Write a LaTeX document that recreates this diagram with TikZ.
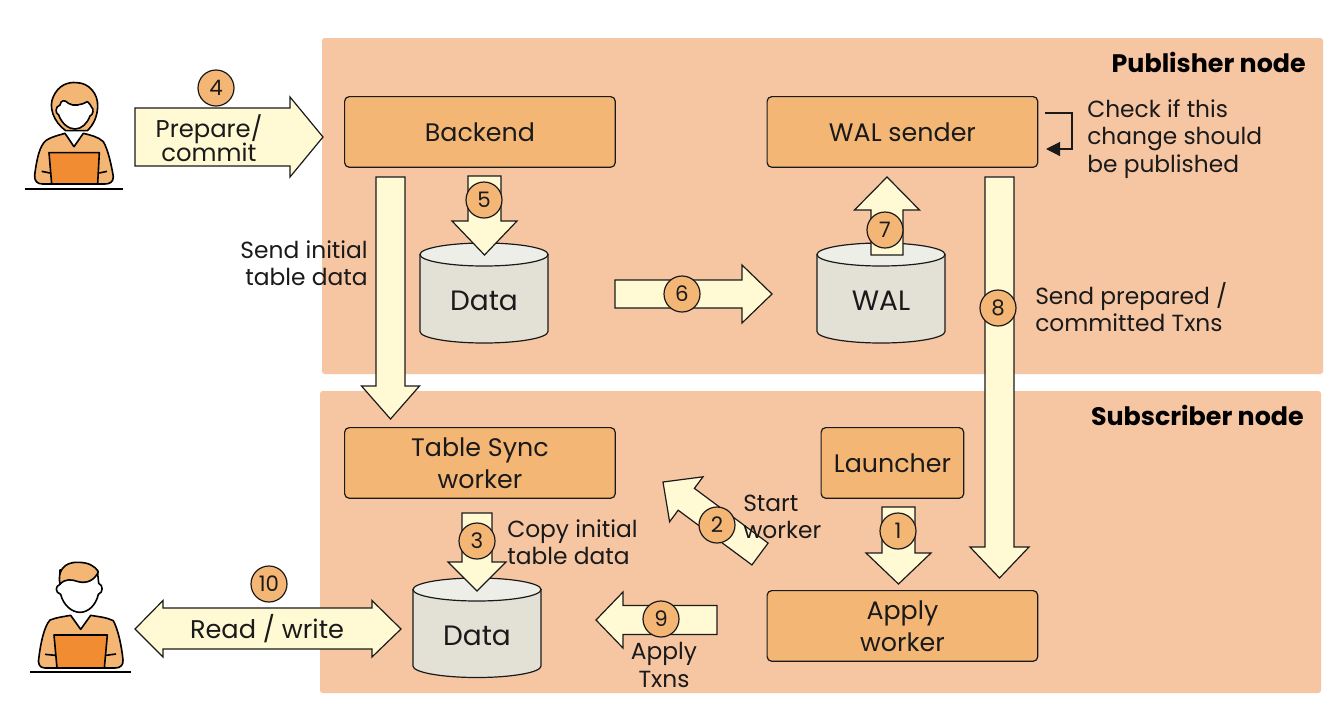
\documentclass[tikz,border=0pt]{standalone}
\usepackage{fontspec}
\setmainfont{Poppins}
\usetikzlibrary{calc,arrows.meta}
\definecolor{panel}{HTML}{F6C6A3}
\definecolor{boxfill}{HTML}{F4B675}
\definecolor{cream}{HTML}{FFFAD4}
\definecolor{cylbody}{HTML}{E3E1D6}
\definecolor{cyltop}{HTML}{EEEEE8}
\definecolor{laptop}{HTML}{F28C33}
\definecolor{ink}{HTML}{1A1A1A}
\newcommand{\txt}[2]{\fontsize{#1}{#2}\selectfont\lineskiplimit=-20pt\relax}
\tikzset{
  panelbox/.style={fill=panel,draw=none,rounded corners=2pt},
  procbox/.style={fill=boxfill,draw=ink,line width=0.9pt,rounded corners=3.5pt,align=center,text=ink,font=\txt{19}{24},inner sep=0pt,anchor=north west},
  blockarr/.style={fill=cream,draw=ink,line width=0.9pt,line join=miter},
  badge/.style={circle,fill=boxfill,draw=ink,line width=0.9pt,minimum size=27pt,inner sep=0pt,text=ink,font=\txt{16}{18}},
  label/.style={text=ink,font=\txt{17.5}{20.4},inner sep=0pt,align=left,anchor=west},
  title/.style={text=black,font=\txt{19}{20}\bfseries,inner sep=0pt,anchor=east},
  cyllabel/.style={text=ink,font=\txt{21}{24},inner sep=0pt},
  figline/.style={draw=black,line width=1.2pt,line join=round},
  figbase/.style={draw=black,line width=1.5pt},
}
% from, to, shaft half width, head half width, head length (reference pixels)
\newcommand{\blockarrow}[5]{%
  \coordinate (hb) at ($(#2)!#5*0.75pt!(#1)$);
  \draw[blockarr]
    ($(#1)!#3*0.75pt!90:(#2)$) --
    ($(hb)!#3*0.75pt!90:(#2)$) --
    ($(hb)!#4*0.75pt!90:(#2)$) --
    (#2) --
    ($(hb)!#4*0.75pt!-90:(#2)$) --
    ($(hb)!#3*0.75pt!-90:(#2)$) --
    ($(#1)!#3*0.75pt!-90:(#2)$) -- cycle;
}
% name, centre x, top-ellipse y, bottom-edge y, text
\newcommand{\database}[5]{%
  \draw[fill=cylbody,draw=ink,line width=0.9pt]
    (#2-64,#3) -- (#2-64,#4) arc[start angle=180,end angle=0,x radius=64,y radius=11.5] -- (#2+64,#3) -- cycle;
  \draw[fill=cyltop,draw=ink,line width=0.9pt] (#2-64,#3) arc[start angle=180,end angle=-180,x radius=64,y radius=11.5];
  \node[cyllabel] (#1) at (#2,#3+46) {#5};
}
\begin{document}
\begin{tikzpicture}[x=0.75pt,y=-0.75pt]
\useasboundingbox (0,0) rectangle (1342,708);
\fill[white] (0,0) rectangle (1342,708);

% panels
\draw[panelbox] (322,38) rectangle (1323,374);
\draw[panelbox] (320,391) rectangle (1321,693);
\node[title] (pub) at (1306,62) {Publisher node};
\node[title] (sub) at (1304,415) {Subscriber node};

% process boxes
\node[procbox,minimum width=203pt,minimum height=53pt] (backend) at (344,96) {Backend};
\node[procbox,minimum width=203pt,minimum height=53pt] (walsender) at (766.5,96) {WAL sender};
\node[procbox,minimum width=203pt,minimum height=53pt] (tablesync) at (344,427) {Table Sync\\worker};
\node[procbox,minimum width=107pt,minimum height=53pt] (launcher) at (820.5,427) {Launcher};
\node[procbox,minimum width=203pt,minimum height=53pt] (apply) at (766.5,590) {Apply\\worker};

% databases
\database{dataone}{484}{254.5}{331.5}{Data}
\database{walone}{881}{254.5}{331.5}{WAL}
\database{datatwo}{477}{589.5}{666}{Data}

% block arrows
\coordinate (a4s) at (135,137);   \coordinate (a4e) at (323,137);
\coordinate (aIs) at (390.5,177); \coordinate (aIe) at (390.5,419);
\coordinate (a5s) at (484.5,176); \coordinate (a5e) at (484.5,255);
\coordinate (a6s) at (615,294);   \coordinate (a6e) at (772,294);
\coordinate (a7s) at (887,255);   \coordinate (a7e) at (887,177);
\coordinate (a8s) at (999.5,177); \coordinate (a8e) at (999.5,578);
\coordinate (a1s) at (898.5,507); \coordinate (a1e) at (898.5,584);
\coordinate (a2s) at (760,554);   \coordinate (a2e) at (663,482);
\coordinate (a3s) at (477,513);   \coordinate (a3e) at (477,591);
\coordinate (a9s) at (717,620);   \coordinate (a9e) at (596,620);

\blockarrow{a4s}{a4e}{29}{40}{33}
\blockarrow{aIs}{aIe}{14.5}{29}{33}
\blockarrow{a5s}{a5e}{16.5}{32.5}{34}
\blockarrow{a6s}{a6e}{14}{29}{30}
\blockarrow{a7s}{a7e}{16}{32.5}{33}
\blockarrow{a8s}{a8e}{14.5}{29.5}{31}
\blockarrow{a1s}{a1e}{16.5}{32.5}{31}
\blockarrow{a2s}{a2e}{13.6}{28}{29}
\blockarrow{a3s}{a3e}{15}{29}{29}
\blockarrow{a9s}{a9e}{14.5}{28}{27}

% double-headed arrow
\draw[blockarr] (163,608) -- (372,608) -- (372,600.5) -- (401,629) -- (372,657) -- (372,649)
  -- (163,649) -- (163,657) -- (135,629) -- (163,600.5) -- cycle;

% self loop
\coordinate (loopa) at (1045,113);
\coordinate (loopb) at (1046,149);
\draw[draw=ink,line width=0.9pt,-{Triangle[length=10.5pt,width=10.5pt]}] (loopa) -- (1072,113) -- (1072,149) -- (loopb);

% labels
\node[text=ink,font=\txt{18.2}{18},align=center,inner sep=0pt] (prep) at (209,138) {Prepare/\\commit};
\node[text=ink,font=\txt{19.2}{20},inner sep=0pt] (rw) at (267,629) {Read / write};
\node[label,align=right,anchor=east] (sendinit) at (368,263) {Send initial\\table data};
\node[label] (check) at (1087,139) {Check if this\\change should\\be published};
\node[label] (sendprep) at (1035,307) {Send prepared /\\committed Txns};
\node[label] (copy) at (507,542) {Copy initial\\table data};
\node[label,align=center,anchor=center] (applytx) at (664,665) {Apply\\Txns};

% badges
\node[badge] (b4) at (216,88) {4};
\node[badge] (b5) at (484,200) {5};
\node[badge] (b6) at (682,294) {6};
\node[badge] (b7) at (885,230) {7};
\node[badge] (b8) at (998,308) {8};
\node[badge] (b1) at (898,531) {1};
\node[badge] (b2) at (717,525) {2};
\node[badge] (b3) at (477,541) {3};
\node[badge] (b9) at (661,619) {9};
\node[badge] (b10) at (269,584) {10};
\node[label] (start) at (743,517) {Start\\worker};

% woman at laptop
\begin{scope}[shift={(0,60)},x=0.25pt,y=-0.25pt]
  \draw[figline,fill=boxfill] (197,212) .. controls (160,185) and (145,140) .. (160,110) .. controls (175,75) and (205,65) .. (230,68)
     .. controls (265,68) and (295,100) .. (293,140) .. controls (292,170) and (280,195) .. (262,212) -- cycle;
  \draw[figline,fill=white] (176,165) .. controls (165,160) and (165,140) .. (180,135) .. controls (182,120) and (195,118) .. (205,130)
     .. controls (220,140) and (245,135) .. (262,125) .. controls (268,130) and (272,135) .. (275,142)
     .. controls (282,145) and (280,165) .. (270,168) .. controls (262,190) and (245,207) .. (225,207)
     .. controls (205,207) and (185,190) .. (176,165) -- cycle;
  \draw[figline,fill=boxfill] (128,372) .. controls (110,372) and (103,362) .. (104,345) .. controls (110,300) and (118,255) .. (140,240)
     .. controls (160,228) and (180,225) .. (195,220) -- (222,260) -- (250,220) .. controls (270,225) and (295,230) .. (310,245)
     .. controls (325,270) and (335,320) .. (340,350) .. controls (340,365) and (330,372) .. (315,372) -- cycle;
  \draw[figline,fill=laptop] (147,278) -- (298,278) -- (293,372) -- (155,372) -- cycle;
  \draw[figline] (125,334) -- (150,339) (298,339) -- (321,334);
  \draw[figbase] (75,386) -- (369,386);
\end{scope}

% man at laptop
\begin{scope}[shift={(0,550)},x=0.25pt,y=-0.25pt]
  \draw[figline,fill=white] (180,103) .. controls (165,108) and (165,128) .. (182,133) .. controls (190,165) and (215,187) .. (240,187)
     .. controls (265,187) and (288,165) .. (295,133) .. controls (310,128) and (310,105) .. (296,100) -- (292,60) -- (180,60) -- cycle;
  \draw[figline,fill=boxfill] (180,103) .. controls (172,65) and (190,35) .. (235,37) .. controls (265,37) and (285,48) .. (295,65)
     .. controls (285,90) and (260,102) .. (235,95) .. controls (215,88) and (195,85) .. (180,103) -- cycle;
  \draw[figline,fill=boxfill] (135,354) .. controls (118,354) and (112,340) .. (117,320) .. controls (122,280) and (132,230) .. (150,210)
     .. controls (170,202) and (190,200) .. (212,196) -- (242,238) -- (272,196) .. controls (295,200) and (320,202) .. (340,212)
     .. controls (355,240) and (365,290) .. (369,330) .. controls (370,345) and (362,354) .. (345,354) -- cycle;
  \draw[figline,fill=laptop] (162,255) -- (322,255) -- (313,354) -- (171,354) -- cycle;
  \draw[figline] (135,313) -- (166,316) (318,316) -- (348,312);
  \draw[figbase] (90,367) -- (394,367);
\end{scope}
\end{tikzpicture}
\end{document}
